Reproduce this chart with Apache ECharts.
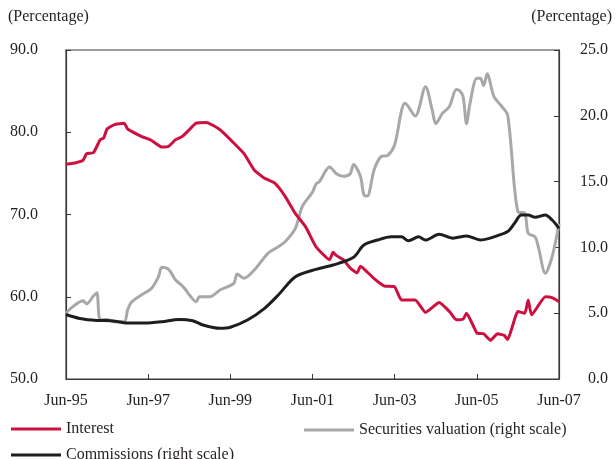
<!DOCTYPE html>
<html>
<head>
<meta charset="utf-8">
<script src="https://cdn.jsdelivr.net/npm/echarts@6/dist/echarts.min.js"></script>
<style>
html,body{margin:0;padding:0;background:#fff;}
#chart{width:616px;height:459px;}
</style>
</head>
<body>
<div id="chart"></div>
<script>
// ---- Data ----
var tickLabels = ['Jun-95', 'Jun-97', 'Jun-99', 'Jun-01', 'Jun-03', 'Jun-05', 'Jun-07'];

var interestDates = ['1995-06','1995-09','1995-11','1995-12','1996-02','1996-04','1996-05','1996-06','1996-08','1996-11','1996-12','1997-04','1997-07','1997-10','1997-12','1998-02','1998-04','1998-06','1998-08','1998-11','1999-03','1999-07','1999-10','2000-01','2000-04','2000-07','2000-10','2001-01','2001-04','2001-07','2001-11','2001-12','2002-01','2002-03','2002-05','2002-07','2002-08','2002-09','2002-12','2003-03','2003-06','2003-08','2003-12','2004-03','2004-07','2004-10','2004-12','2005-02','2005-03','2005-06','2005-08','2005-10','2005-12','2006-02','2006-03','2006-06','2006-08','2006-09','2006-10','2007-02','2007-04','2007-06'];
var interestValues = [76.1,76.3,76.6,77.4,77.5,79.1,79.3,80.4,80.9,81.1,80.4,79.5,79.0,78.2,78.3,79.1,79.5,80.3,81.1,81.2,80.3,78.7,77.4,75.4,74.4,73.8,72.2,70.1,68.5,66.1,64.5,65.4,65.0,64.5,63.5,62.9,63.7,63.4,62.2,61.3,61.2,59.6,59.6,58.1,59.3,58.2,57.2,57.3,58.0,55.6,55.5,54.7,55.5,55.3,54.8,58.2,58.0,59.6,57.8,60.0,59.9,59.4];

var securitiesDates = ['1995-06','1995-08','1995-11','1995-12','1996-02','1996-03','1996-04','1996-06','1996-08','1996-11','1996-12','1997-01','1997-04','1997-07','1997-09','1997-10','1997-12','1998-02','1998-04','1998-05','1998-06','1998-08','1998-09','1998-12','1999-03','1999-07','1999-08','1999-10','2000-01','2000-05','2000-08','2000-10','2001-01','2001-03','2001-06','2001-07','2001-08','2001-11','2002-01','2002-03','2002-05','2002-06','2002-08','2002-09','2002-10','2002-12','2003-02','2003-04','2003-06','2003-08','2003-09','2003-12','2004-03','2004-05','2004-06','2004-08','2004-10','2004-12','2005-01','2005-02','2005-03','2005-04','2005-06','2005-07','2005-08','2005-09','2005-11','2006-01','2006-03','2006-06','2006-08','2006-09','2006-11','2006-12','2007-02','2007-04','2007-06'];
var securitiesValues = [5.0,5.5,5.95,5.7,6.3,6.56,4.5,4.53,4.35,4.35,5.24,5.8,6.38,6.9,7.77,8.49,8.33,7.52,7.07,6.76,6.4,5.87,6.25,6.25,6.76,7.27,7.98,7.65,8.28,9.55,10.05,10.43,11.45,13.1,14.2,14.8,15.0,16.1,15.6,15.4,15.6,16.3,15.4,14.0,13.9,15.9,16.9,17.0,17.8,20.4,20.95,19.98,22.2,20.4,19.4,20.2,20.7,22.0,21.9,21.45,19.4,20.95,22.85,22.85,22.3,23.2,21.45,20.8,20.06,12.7,12.6,11.07,10.8,10.0,8.03,9.3,11.8];

var commissionsDates = ['1995-06','1995-10','1996-03','1996-07','1996-12','1997-05','1997-10','1998-03','1998-07','1998-10','1999-03','1999-06','1999-11','2000-04','2000-08','2001-01','2001-07','2001-12','2002-06','2002-09','2003-01','2003-05','2003-08','2003-10','2004-01','2004-03','2004-07','2004-11','2005-03','2005-07','2005-11','2006-03','2006-05','2006-07','2006-09','2006-11','2007-02','2007-04','2007-06'];
var commissionsValues = [4.9,4.6,4.45,4.43,4.25,4.25,4.35,4.53,4.43,4.1,3.85,3.93,4.48,5.37,6.38,7.77,8.33,8.66,9.25,10.18,10.56,10.8,10.8,10.5,10.8,10.56,11.0,10.7,10.87,10.56,10.8,11.2,11.83,12.46,12.46,12.29,12.46,12.08,11.45];

// ---- Build series ----
function monthIndex(s) {
  var p = s.split('-');
  return (parseInt(p[0], 10) - 1995) * 12 + (parseInt(p[1], 10) - 6);
}
function pairs(dates, vals) {
  return dates.map(function (d, i) { return [monthIndex(d), vals[i]]; });
}

var FONT = 'Liberation Serif';
var chart = echarts.init(document.getElementById('chart'));
var textStyle = { fontFamily: FONT, fontSize: 16, color: '#231f20' };

chart.setOption({
  animation: false,
  backgroundColor: '#fff',
  textStyle: textStyle,
  grid: { left: 66, right: 57, top: 50, bottom: 80, show: true, borderColor: '#3a3a3a', borderWidth: 1.2, backgroundColor: 'transparent' },
  graphic: [
    { type: 'text', left: 8, top: 9, style: { text: '(Percentage)', font: '16px "Liberation Serif"', fill: '#231f20' } },
    { type: 'text', right: 4, top: 9, style: { text: '(Percentage)', font: '16px "Liberation Serif"', fill: '#231f20' } }
  ],
  xAxis: {
    type: 'value', min: 0, max: 144, interval: 24,
    axisLine: { show: true, lineStyle: { color: '#3a3a3a', width: 1.2 } },
    axisTick: { show: true, inside: true, length: 5, lineStyle: { color: '#3a3a3a' } },
    splitLine: { show: false },
    axisLabel: { margin: 14, fontFamily: FONT, fontSize: 16, color: '#231f20',
      formatter: function (v) { return tickLabels[Math.round(v / 24)] || ''; } }
  },
  yAxis: [
    {
      type: 'value', min: 50, max: 90, interval: 10, position: 'left',
      axisLine: { show: true, lineStyle: { color: '#3a3a3a', width: 1.2 } },
      axisTick: { show: true, inside: true, length: 5, lineStyle: { color: '#3a3a3a' } },
      splitLine: { show: false },
      axisLabel: { margin: 28, fontFamily: FONT, fontSize: 16, color: '#231f20',
        formatter: function (v) { return v.toFixed(1); } }
    },
    {
      type: 'value', min: 0, max: 25, interval: 5, position: 'right',
      axisLine: { show: true, lineStyle: { color: '#3a3a3a', width: 1.2 } },
      axisTick: { show: true, inside: true, length: 5, lineStyle: { color: '#3a3a3a' } },
      splitLine: { show: false },
      axisLabel: { margin: 49, align: 'right', fontFamily: FONT, fontSize: 16, color: '#231f20',
        formatter: function (v) { return v.toFixed(1); } }
    }
  ],
  legend: [
    { data: ['Interest'], left: 6, top: 416, icon: 'rect', itemWidth: 50, itemHeight: 3, textStyle: textStyle },
    { data: ['Securities valuation (right scale)'], left: 299, top: 417, icon: 'rect', itemWidth: 50, itemHeight: 3, textStyle: textStyle },
    { data: ['Commissions (right scale)'], left: 6, top: 442, icon: 'rect', itemWidth: 50, itemHeight: 3, textStyle: textStyle }
  ],
  series: [
    { name: 'Securities valuation (right scale)', type: 'line', yAxisIndex: 1, showSymbol: false, symbol: 'none', smooth: 0.3,
      data: pairs(securitiesDates, securitiesValues), lineStyle: { color: '#a7a8aa', width: 3 }, itemStyle: { color: '#a7a8aa' }, z: 2 },
    { name: 'Interest', type: 'line', yAxisIndex: 0, showSymbol: false, symbol: 'none', smooth: 0.15,
      data: pairs(interestDates, interestValues), lineStyle: { color: '#cc1040', width: 3 }, itemStyle: { color: '#cc1040' }, z: 3 },
    { name: 'Commissions (right scale)', type: 'line', yAxisIndex: 1, showSymbol: false, symbol: 'none', smooth: 0.3,
      data: pairs(commissionsDates, commissionsValues), lineStyle: { color: '#1e1e1e', width: 3 }, itemStyle: { color: '#1e1e1e' }, z: 4 }
  ]
});
</script>
</body>
</html>
